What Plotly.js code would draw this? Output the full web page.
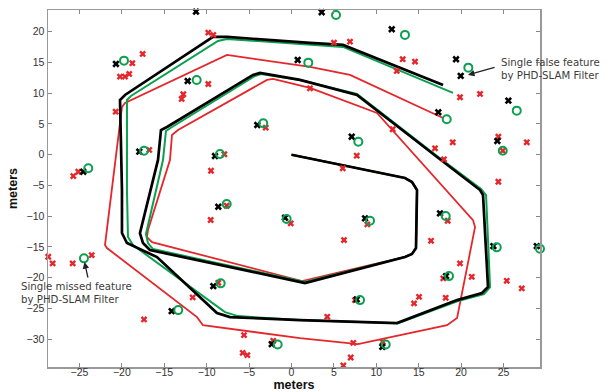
<!DOCTYPE html>
<html>
<head>
<meta charset="utf-8">
<script src="https://cdn.plot.ly/plotly-3.0.1.min.js"></script>
<style>html,body{margin:0;padding:0;background:#fff;}#chart{width:612px;height:392px;}</style>
</head>
<body>
<div id="chart"></div>
<script>
// Estimated vehicle path (black)
const estPathX = [0,13.38,14.21,14.80,14.68,14.21,13.38,1.59,-16.69,-17.51,-17.87,-15.74,-15.39,-14.68,-4.54,-3.71,1.00,7.72,17.16,22.23,22.58,23.17,22.46,19.52,12.44,1.00,-7.25,-8.79,-15.86,-19.40,-19.99,-19.99,-20.22,-19.63,-9.26,-7.61,2.18,6.07,17.87];
const estPathY = [0,-3.79,-4.45,-5.75,-15.19,-16.15,-16.64,-20.88,-15.52,-14.38,-12.76,-0.85,4.02,4.51,12.98,13.31,12.17,9.72,-0.37,-5.75,-6.56,-21.54,-22.51,-23.66,-27.41,-26.92,-26.43,-25.78,-16.66,-14.38,-12.75,-5.75,8.91,9.72,19.17,19.17,18.19,17.87,11.35];
// Ground truth path (green)
const truePathX = [0,13.38,14.21,14.80,14.68,14.21,13.38,1.59,-16.33,-16.92,-17.16,-15.15,-14.80,-14.09,-4.30,-3.60,1.00,7.72,17.16,22.35,22.94,23.41,22.70,19.63,12.56,1.00,-6.31,-7.84,-18.69,-19.28,-19.40,-19.40,-18.93,-8.67,-7.61,2.18,6.07,19.04];
const truePathY = [0,-3.79,-4.45,-5.75,-15.19,-16.15,-16.64,-20.73,-15.36,-14.38,-12.92,-0.86,3.86,4.51,12.82,13.14,12.17,9.89,-0.21,-5.59,-6.56,-21.54,-22.68,-23.83,-27.41,-26.92,-26.27,-25.62,-14.71,-13.40,-5.75,8.91,9.56,18.52,18.84,17.86,17.54,10.05];
// Dead-reckoning path (red)
const drPathX = [0,13.38,14.21,14.80,14.68,14.21,13.38,1.24,-16.45,-17.04,-16.92,-14.33,-14.09,-13.38,-2.89,-2.18,2.18,10.08,21.40,21.64,19.87,19.52,18.34,7.84,1.00,-10.44,-11.14,-21.76,-21.99,-21.17,-19.99,-19.63,-7.61,2.18,6.90,17.87];
const drPathY = [0,-3.79,-4.45,-5.75,-15.19,-16.15,-16.64,-20.57,-14.22,-13.40,-12.26,-0.86,3.21,4.02,12.17,12.33,10.86,6.79,-10.64,-11.78,-24.15,-26.59,-27.74,-30.83,-29.85,-27.74,-26.43,-15.19,-14.71,-5.75,7.75,8.42,16.24,14.28,12.98,5.98];

// Estimated features (black x)
const estFeatX = [-11.26,3.56,11.82,-20.70,0.73,19.40,19.95,-12.24,25.57,17.31,-4.03,7.10,24.27,-17.95,-9.02,-24.55,-8.63,-0.77,8.67,17.51,23.80,28.92,18.22,-9.22,7.69,-14.13,-2.33,10.71];
const estFeatY = [23.29,23.19,20.42,14.77,15.42,15.54,12.82,12.00,8.79,6.91,4.84,2.93,2.23,0.49,-0.21,-2.77,-8.47,-10.26,-10.36,-9.54,-14.87,-14.87,-19.76,-21.38,-23.55,-25.46,-30.83,-31.27];
// True features (green o)
const trueFeatX = [-9.61,5.25,13.38,-19.75,1.98,20.85,-11.18,26.56,18.30,-3.33,7.88,24.91,-17.39,-8.43,-23.96,-7.64,-0.57,9.26,18.18,24.20,29.30,18.57,-24.47,-8.35,8.08,-13.35,-1.63,11.11];
const trueFeatY = [23.57,22.75,19.50,15.31,14.98,14.17,12.17,7.17,5.77,5.11,2.12,0.65,0.65,0.11,-2.21,-8.03,-10.47,-10.75,-9.98,-15.08,-15.30,-19.76,-16.87,-20.94,-23.66,-25.29,-30.88,-30.88];
// Measurements (red x)
const measX = [-9.81,-9.22,5.01,6.90,-18.77,-17.55,-20.22,-19.63,-19.13,-9.81,-12.76,-12.95,-20.73,-3.04,-16.77,-7.92,-9.49,-25.14,-25.73,13.11,14.56,12.41,19.87,22.23,2.18,11.93,7.69,6.04,16.92,17.98,19.01,24.39,24.91,27.74,24.39,-7.64,-9.53,-0.09,-28.68,-28.16,-25.80,-23.56,-8.63,-11.65,-17.39,-5.60,-5.75,-5.21,-2.15,8.94,6.19,18.42,16.45,19.87,17.90,21.25,25.38,27.15,7.49,15.04,14.45,18.18,4.22,7.29,10.75,6.98,6.11];
const measY = [19.87,19.50,18.24,18.40,14.89,16.40,12.70,12.70,13.14,11.51,9.84,9.07,7.00,4.40,0.77,0.07,-2.61,-2.77,-3.47,15.54,15.15,13.63,9.35,9.89,10.81,4.14,-0.16,-2.21,1.04,-0.75,2.02,2.93,0.65,2.02,-4.40,-8.31,-10.63,-11.17,-16.61,-17.69,-17.69,-16.34,-20.85,-23.22,-26.81,-29.36,-32.25,-32.62,-30.29,-11.34,-13.89,-10.75,-14.01,-17.69,-20.13,-19.87,-20.52,-21.76,-23.66,-23.13,-24.20,-23.29,-26.38,-30.62,-30.46,-33.00,-34.30];

const xTicks = [-25,-20,-15,-10,-5,0,5,10,15,20,25];
const yTicks = [-30,-25,-20,-15,-10,-5,0,5,10,15,20];

const RED = '#e5262b', GREEN = '#0aa04f', BLACK = '#000000';

const traces = [
  {x: drPathX, y: drPathY, mode: 'lines', line: {color: RED, width: 1.8}, hoverinfo: 'skip'},
  {x: truePathX, y: truePathY, mode: 'lines', line: {color: GREEN, width: 2}, hoverinfo: 'skip'},
  {x: estPathX, y: estPathY, mode: 'lines', line: {color: BLACK, width: 2.7}, hoverinfo: 'skip'},
  {x: measX, y: measY, mode: 'markers', cliponaxis: false,
   marker: {symbol: 'x', size: 6, color: RED, line: {width: 0}}},
  {x: estFeatX, y: estFeatY, mode: 'markers', cliponaxis: false,
   marker: {symbol: 'x', size: 6.5, color: BLACK, line: {width: 0}}},
  {x: trueFeatX, y: trueFeatY, mode: 'markers', cliponaxis: false,
   marker: {symbol: 'circle-open', size: 8, color: GREEN, line: {width: 2, color: GREEN}}}
];

const txtFont = {family: 'DejaVu Sans, sans-serif', size: 10.2, color: '#3c3c3c'};
const layout = {
  width: 612, height: 392,
  margin: {l: 48, r: 72, t: 10, b: 25},
  paper_bgcolor: '#fff', plot_bgcolor: '#fff',
  showlegend: false,
  font: {family: 'Liberation Sans, Arial, sans-serif', color: '#333', size: 11},
  xaxis: {
    range: [-28.71, 29.30], tickvals: xTicks, ticks: 'inside', ticklen: 4, tickcolor: '#888',
    showline: true, linecolor: '#999', linewidth: 1.5, mirror: 'ticks', showgrid: false, zeroline: false,
    tickfont: {size: 10.5, color: '#333'}, ticklabelstandoff: -5,
    title: {text: 'meters', font: {size: 12.5, color: '#111', weight: 'bold'}, standoff: 1}
  },
  yaxis: {
    range: [-34.55, 23.55], tickvals: yTicks, ticks: 'inside', ticklen: 4, tickcolor: '#888',
    showline: true, linecolor: '#999', linewidth: 1.5, mirror: 'ticks', showgrid: false, zeroline: false,
    tickfont: {size: 10.5, color: '#333'},
    title: {text: 'meters', font: {size: 12.5, color: '#111', weight: 'bold'}, standoff: 6}
  },
  annotations: [
    {xref: 'paper', yref: 'paper', x: 0.9167, y: 0.8361, xanchor: 'left', yanchor: 'middle', align: 'left', showarrow: false, text: 'Single false feature<br>by PHD-SLAM Filter', font: txtFont},
    {xref: 'paper', yref: 'paper', x: -0.0589, y: 0.2063, xanchor: 'left', yanchor: 'middle', align: 'left', showarrow: false, text: 'Single missed feature<br>by PHD-SLAM Filter', font: txtFont},
    {xref: 'x', yref: 'y', x: 20.81, y: 12.98, axref: 'x', ayref: 'y', ax: 24.12, ay: 14.28, text: '', showarrow: true, arrowhead: 2, arrowsize: 1, arrowwidth: 1.3, arrowcolor: '#222'},
    {xref: 'x', yref: 'y', x: -24.41, y: -17.48, axref: 'x', ayref: 'y', ax: -23.96, ay: -20.24, text: '', showarrow: true, arrowhead: 2, arrowsize: 1, arrowwidth: 1.3, arrowcolor: '#222'}
  ]
};

Plotly.newPlot('chart', traces, layout, {staticPlot: true, displayModeBar: false});
</script>
</body>
</html>
